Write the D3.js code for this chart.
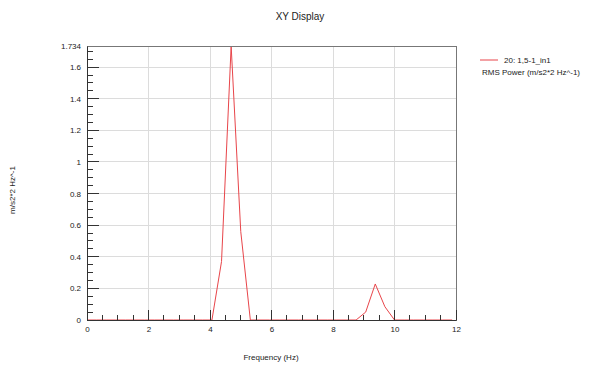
<!DOCTYPE html>
<html><head><meta charset="utf-8">
<script src="https://cdn.jsdelivr.net/npm/d3@7"></script>
<style>body{margin:0;background:#fff;} text{font-family:"Liberation Sans",Arial,sans-serif;fill:#222;}</style>
</head><body>
<svg id="c" width="600" height="371"></svg>
<script>
const freq = [0,0.3125,0.625,0.9375,1.25,1.5625,1.875,2.1875,2.5,2.8125,3.125,3.4375,3.75,4.0625,4.375,4.6875,5.0,5.3125,5.625,5.9375,6.25,6.5625,6.875,7.1875,7.5,7.8125,8.125,8.4375,8.75,9.0625,9.375,9.6875,10.0,10.3125,10.625,10.9375,11.25,11.5625,11.875];
const power = [0,0,0,0,0,0,0,0,0,0,0,0,0,0,0.37,1.734,0.56,0,0,0,0,0,0,0,0,0,0,0,0,0.05,0.228,0.084,0,0,0,0,0,0,0];
const xTicks = [0,2,4,6,8,10,12];
const yTicks = [0,0.2,0.4,0.6,0.8,1,1.2,1.4,1.6,1.734];
const seriesName = "20: 1,5-1_in1";
const seriesUnit = "RMS Power (m/s2*2 Hz^-1)";

const svg = d3.select("#c");
const L=87,R=456,T=46,B=320;
const x = d3.scaleLinear().domain([0,12]).range([L,R]);
const y = d3.scaleLinear().domain([0,1.734]).range([B,T]);

// grid
const g = svg.append("g");
g.selectAll(".gx").data(xTicks.slice(1,-1)).join("line")
 .attr("x1",d=>x(d)).attr("x2",d=>x(d)).attr("y1",T).attr("y2",B)
 .attr("stroke","#dcdcdc").attr("stroke-width",1).attr("shape-rendering","crispEdges");
g.selectAll(".gy").data(yTicks.slice(1,-1)).join("line")
 .attr("x1",L).attr("x2",R).attr("y1",d=>y(d)).attr("y2",d=>y(d))
 .attr("stroke","#dcdcdc").attr("stroke-width",1).attr("shape-rendering","crispEdges");

// line
svg.append("path").datum(freq.map((f,i)=>[f,power[i]]))
 .attr("fill","none").attr("stroke","#e8454a").attr("stroke-width",1)
 .attr("d",d3.line().x(d=>x(d[0])).y(d=>y(d[1])));

// frame
svg.append("rect").attr("x",L).attr("y",T).attr("width",R-L).attr("height",B-T)
 .attr("fill","none").attr("stroke","#777").attr("stroke-width",1).attr("shape-rendering","crispEdges");

// axes
const xAxis = d3.axisBottom(x).tickValues(xTicks).tickSize(0).tickPadding(6).tickFormat(d3.format("d"));
const xa = svg.append("g").attr("transform",`translate(0,${B})`).call(xAxis);
xa.select(".domain").attr("stroke","#333");
xa.selectAll("text").attr("font-size",8).attr("fill","#222").attr("font-family","Liberation Sans, Arial, sans-serif");
const xMinor = d3.range(0,12.001,0.5);
svg.append("g").selectAll("line").data(xMinor).join("line")
 .attr("x1",d=>x(d)).attr("x2",d=>x(d)).attr("y1",B).attr("y2",d=>Math.abs(d%2)<1e-9?B-10:B-5)
 .attr("stroke","#333").attr("shape-rendering","crispEdges");

const yAxis = d3.axisLeft(y).tickValues(yTicks).tickSize(0).tickPadding(6).tickFormat(d=>d===1.734?"1.734":d3.format("")(d));
const ya = svg.append("g").attr("transform",`translate(${L},0)`).call(yAxis);
ya.select(".domain").attr("stroke","#333");
ya.selectAll("text").attr("font-size",8).attr("fill","#222").attr("font-family","Liberation Sans, Arial, sans-serif");
const yMinor = d3.range(0,1.7301,0.05);
svg.append("g").selectAll("line").data(yMinor).join("line")
 .attr("y1",d=>y(d)).attr("y2",d=>y(d)).attr("x1",L).attr("x2",d=>Math.abs(Math.round(d*20)%4)===0?L+12:L+6)
 .attr("stroke","#333").attr("shape-rendering","crispEdges");

// titles
svg.append("text").attr("x",300).attr("y",20).attr("text-anchor","middle").attr("font-size",10).text("XY Display");
svg.append("text").attr("x",271).attr("y",360).attr("text-anchor","middle").attr("font-size",8).text("Frequency (Hz)");
svg.append("text").attr("transform","translate(15,190) rotate(-90)").attr("text-anchor","middle").attr("font-size",8).text("m/s2*2 Hz^-1");

// legend
svg.append("line").attr("x1",480).attr("x2",498).attr("y1",60).attr("y2",60).attr("stroke","#e8454a");
svg.append("text").attr("x",504).attr("y",63).attr("font-size",8).text(seriesName);
svg.append("text").attr("x",482).attr("y",75).attr("font-size",8).text(seriesUnit);
</script>
</body></html>
